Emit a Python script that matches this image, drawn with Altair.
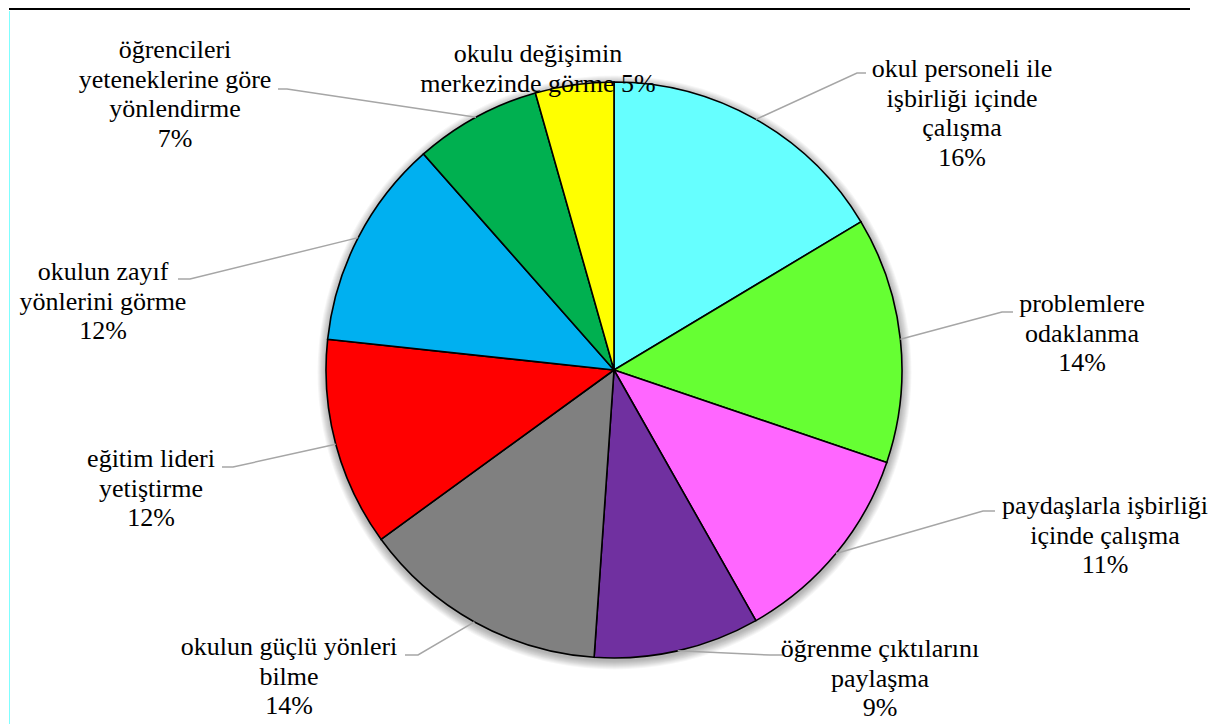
import math
import altair as alt
import pandas as pd

# ---- data ----
categories = [
    "okul personeli ile işbirliği içinde çalışma",
    "problemlere odaklanma",
    "paydaşlarla işbirliği içinde çalışma",
    "öğrenme çıktılarını paylaşma",
    "okulun güçlü yönleri bilme",
    "eğitim lideri yetiştirme",
    "okulun zayıf yönlerini görme",
    "öğrencileri yeteneklerine göre yönlendirme",
    "okulu değişimin merkezinde görme",
]
values = [16.4, 13.8, 11.6, 9.3, 13.9, 11.7, 11.8, 7.1, 4.4]
label_texts = [
    "okul personeli ile\nişbirliği içinde\nçalışma\n16%",
    "problemlere\nodaklanma\n14%",
    "paydaşlarla işbirliği\niçinde çalışma\n11%",
    "öğrenme çıktılarını\npaylaşma\n9%",
    "okulun güçlü yönleri\nbilme\n14%",
    "eğitim lideri\nyetiştirme\n12%",
    "okulun zayıf\nyönlerini görme\n12%",
    "öğrencileri\nyeteneklerine göre\nyönlendirme\n7%",
    "okulu değişimin\nmerkezinde görme 5%",
]
colors = ["#66FFFF", "#66FF33", "#FF66FF", "#7030A0", "#808080",
          "#FF0000", "#00B0F0", "#00B050", "#FFFF00"]

# ---- layout (chart pixel coordinates) ----
W, H = 1200, 716
CX, CY, R = 606, 362, 288
FS, LH = 26, 29.5
FONT = "Liberation Serif"
# label block centre x and first-line top y
label_pos = [(954, 48), (1074, 283), (1097, 485), (872, 628),
             (281, 626), (143, 438), (95, 251), (167, 29), (530, 33)]
# leader elbow and end points (None = no leader)
leader_pts = [((849, 65), (858, 65)), ((994, 304), (1005, 304)),
              ((975, 503), (987, 503)), ((762, 647), (775, 647)),
              ((410, 647), (397, 647)), ((225, 459), (214, 459)),
              ((182, 271), (170, 271)), ((279, 81), (270, 81)), None]

df = pd.DataFrame({"cat": categories, "value": values,
                   "order": list(range(len(values)))})

total = sum(values)
lab_rows, line_rows = [], []
cum = 0.0
for i, v in enumerate(values):
    mid = (cum + v / 2) / total * 2 * math.pi
    cum += v
    lx, ly = label_pos[i]
    lab_rows.append({"cat": categories[i], "x": lx, "y": ly,
                     "txt": label_texts[i].split("\n")})
    if leader_pts[i] is not None:
        sx = CX + R * math.sin(mid)
        sy = CY - R * math.cos(mid)
        pts = [(sx, sy)] + list(leader_pts[i])
        for k, (px, py) in enumerate(pts):
            line_rows.append({"cat": categories[i], "k": k, "x": px, "y": py})

xs = alt.Scale(domain=[0, W], range=[0, W])
ys = alt.Scale(domain=[0, H], range=[0, H])

dummy = pd.DataFrame({"a": [0]})

# soft shadow behind the pie
shadow_layers = []
for r in range(R + 9, R, -1):
    shadow_layers.append(alt.Chart(dummy).mark_arc(
        theta=0, theta2=2 * math.pi, outerRadius=r,
        color="#000000", opacity=0.035).encode(
        x=alt.value(CX + 0.5), y=alt.value(CY + 2.5)))

pie = alt.Chart(df).mark_arc(outerRadius=R, stroke="black", strokeWidth=1.6).encode(
    theta=alt.Theta("value:Q", stack=True),
    order=alt.Order("order:Q"),
    color=alt.Color("cat:N", scale=alt.Scale(domain=categories, range=colors), legend=None),
    x=alt.value(CX), y=alt.value(CY),
)

leaders = alt.Chart(pd.DataFrame(line_rows)).mark_line(
    color="#A6A6A6", strokeWidth=1.5).encode(
    x=alt.X("x:Q", scale=xs, axis=None),
    y=alt.Y("y:Q", scale=ys, axis=None),
    detail="cat:N",
    order="k:Q",
)

labels = alt.Chart(pd.DataFrame(lab_rows)).mark_text(
    font=FONT, fontSize=FS, lineHeight=LH, align="center",
    baseline="top", color="black").encode(
    x=alt.X("x:Q", scale=xs, axis=None),
    y=alt.Y("y:Q", scale=ys, axis=None),
    text="txt",
)

top_line = alt.Chart(dummy).mark_rule(
    color="black", strokeWidth=2).encode(
    x=alt.value(1), x2=alt.value(1182), y=alt.value(1))
left_line = alt.Chart(dummy).mark_rule(
    color="#7FFFFF", strokeWidth=1).encode(
    x=alt.value(1.5), y=alt.value(3), y2=alt.value(H))

chart = alt.layer(top_line, left_line, *shadow_layers, pie, leaders, labels).properties(
    width=W, height=H, padding=0, autosize=alt.AutoSizeParams(type="none")
).configure_view(strokeWidth=0)

chart.save("out.html", embed_options={"renderer": "svg", "actions": False})
